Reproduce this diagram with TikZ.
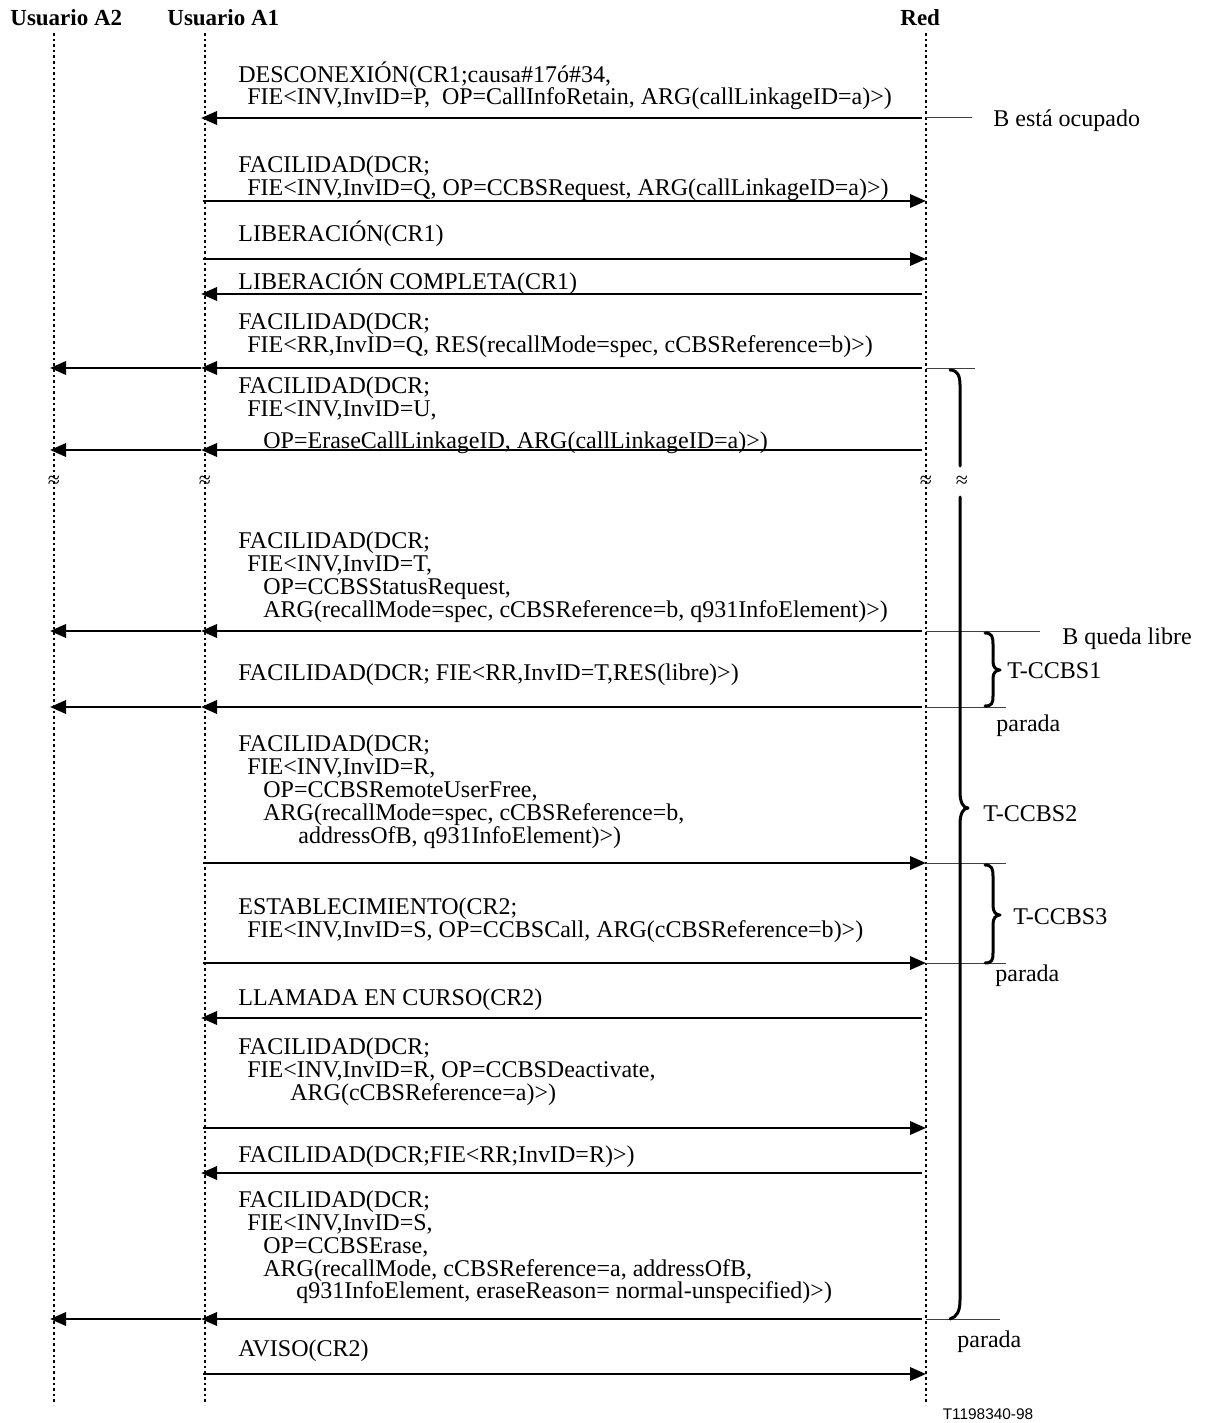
\documentclass[tikz,border=0pt]{standalone}
\usepackage{fontspec}
\setmainfont{Liberation Serif}
\newfontfamily\sansf{Liberation Sans}
\usetikzlibrary{arrows.meta}
\newcommand\msgL[1]{\draw[msg, shorten <=2pt, shorten >=-2pt] (R |- 0,#1) -- (A1 |- 0,#1);}
\newcommand\msgLL[1]{\draw[msg, shorten <=2pt, shorten >=-2pt] (R |- 0,#1) -- (A1 |- 0,#1);
  \draw[msg, shorten <=2pt, shorten >=-2pt] (A1 |- 0,#1) -- (A2 |- 0,#1);}
\newcommand\msgR[1]{\draw[msg, shorten <=-1pt] (A1 |- 0,#1) -- (R |- 0,#1);}
\newcommand\txtl[4]{\node[lbl] (#1) at (#2,#3) {#4};}
\begin{document}
\begin{tikzpicture}[x=0.5pt,y=-0.5pt,
  lifeline/.style={line width=1.1pt, dash pattern=on 1.3pt off 1.5pt},
  msg/.style={line width=1.4pt, -{Triangle[length=8pt,width=6.6pt]}},
  thinline/.style={line width=0.5pt, black!75},
  lbl/.style={anchor=base west, inner sep=0pt, font=\fontsize{12}{14}\selectfont},
  hdr/.style={anchor=base west, inner sep=0pt, font=\fontsize{11.5}{14}\selectfont\bfseries},
  brk/.style={inner sep=0pt, font=\fontsize{11}{12}\selectfont},
  bracestroke/.style={line width=1.5pt, line join=round, line cap=round}]
\useasboundingbox (0,0) rectangle (1204,1423);

% lifelines
\coordinate (A2) at (54,0);
\coordinate (A1) at (205,0);
\coordinate (R) at (926,0);
\coordinate (A2t) at (54,33);  \coordinate (A2b) at (54,1405);
\coordinate (A1t) at (205,33); \coordinate (A1b) at (205,1405);
\coordinate (Rt) at (926,33);  \coordinate (Rb) at (926,1405);
\draw[lifeline] (A2t) -- (A2b);
\draw[lifeline] (A1t) -- (A1b);
\draw[lifeline] (Rt) -- (Rb);

% headers
\node[hdr] (hA2) at (10,26) {Usuario A2};
\node[hdr] (hA1) at (167,26) {Usuario A1};
\node[hdr] (hR) at (900,26) {Red};

% message 1
\txtl{m1a}{238}{83}{DESCONEXIÓN(CR1;causa\#17ó\#34,}
\txtl{m1b}{247}{105}{FIE<INV,InvID=P,\ \ OP=CallInfoRetain, ARG(callLinkageID=a)>)}
\msgL{118}
\coordinate (o1) at (972,118);
\draw[thinline] (R |- 0,118) -- (o1);
\node[lbl] (bocc) at (993,127) {B está ocupado};

% message 2
\txtl{m2a}{238}{173}{FACILIDAD(DCR;}
\txtl{m2b}{247}{196}{FIE<INV,InvID=Q, OP=CCBSRequest, ARG(callLinkageID=a)>)}
\msgR{201}

% message 3
\txtl{m3a}{238}{242}{LIBERACIÓN(CR1)}
\msgR{259}

% message 4
\txtl{m4a}{238}{289}{LIBERACIÓN COMPLETA(CR1)}
\msgL{294}

% message 5
\txtl{m5a}{238}{329}{FACILIDAD(DCR;}
\txtl{m5b}{247}{352}{FIE<RR,InvID=Q, RES(recallMode=spec, cCBSReference=b)>)}
\msgLL{368}
\coordinate (o5) at (975,368);
\draw[thinline] (R |- 0,368) -- (o5);

% message 6
\txtl{m6a}{238}{393}{FACILIDAD(DCR;}
\txtl{m6b}{247}{416}{FIE<INV,InvID=U,}
\txtl{m6c}{263}{448}{OP=EraseCallLinkageID, ARG(callLinkageID=a)>)}
\msgLL{450}

% breaks
\node[brk] (b1) at (54,482) {≈};
\node[brk] (b2) at (205,482) {≈};
\node[brk] (b3) at (926,482) {≈};
\node[brk] (b4) at (962,482) {≈};

% message 7
\txtl{m7a}{238}{548}{FACILIDAD(DCR;}
\txtl{m7b}{247}{571}{FIE<INV,InvID=T,}
\txtl{m7c}{263}{594}{OP=CCBSStatusRequest,}
\txtl{m7d}{263}{617}{ARG(recallMode=spec, cCBSReference=b, q931InfoElement)>)}
\msgLL{631}
\coordinate (o7) at (1040,631);
\draw[thinline] (R |- 0,631) -- (o7);
\node[lbl] (blib) at (1062,644) {B queda libre};

% message 8
\txtl{m8a}{238}{680}{FACILIDAD(DCR; FIE<RR,InvID=T,RES(libre)>)}
\msgLL{707}
\coordinate (o8) at (1006,707);
\draw[thinline] (R |- 0,707) -- (o8);
\node[lbl] (par1) at (996,731) {parada};
% brace T-CCBS1
\draw[bracestroke] (985,633) .. controls (992,633) and (993,637) .. (993,644) -- (993,662)
  .. controls (993,667) and (996,670) .. (1000,670)
  .. controls (996,670) and (993,673) .. (993,678) -- (993,696)
  .. controls (993,703) and (992,706) .. (985,706);
\node[lbl] (t1) at (1007,678) {T-CCBS1};

% message 9
\txtl{m9a}{238}{751}{FACILIDAD(DCR;}
\txtl{m9b}{247}{774}{FIE<INV,InvID=R,}
\txtl{m9c}{263}{797}{OP=CCBSRemoteUserFree,}
\txtl{m9d}{263}{820}{ARG(recallMode=spec, cCBSReference=b,}
\txtl{m9e}{298}{843}{addressOfB, q931InfoElement)>)}
\msgR{863}
\coordinate (o9) at (1006,863);
\draw[thinline] (R |- 0,863) -- (o9);

% message 10
\txtl{m10a}{238}{914}{ESTABLECIMIENTO(CR2;}
\txtl{m10b}{247}{937}{FIE<INV,InvID=S, OP=CCBSCall, ARG(cCBSReference=b)>)}
\msgR{963}
\coordinate (o10) at (1006,963);
\draw[thinline] (R |- 0,963) -- (o10);
\node[lbl] (par2) at (995,981) {parada};
% brace T-CCBS3
\draw[bracestroke] (985,865) .. controls (992,865) and (993,869) .. (993,876) -- (993,906)
  .. controls (993,912) and (996,915) .. (1000,915)
  .. controls (996,915) and (993,918) .. (993,924) -- (993,953)
  .. controls (993,960) and (992,963) .. (985,963);
\node[lbl] (t3) at (1013,924) {T-CCBS3};

% message 11
\txtl{m11a}{238}{1005}{LLAMADA EN CURSO(CR2)}
\msgL{1018}

% message 12
\txtl{m12a}{238}{1054}{FACILIDAD(DCR;}
\txtl{m12b}{247}{1077}{FIE<INV,InvID=R, OP=CCBSDeactivate,}
\txtl{m12c}{290}{1100}{ARG(cCBSReference=a)>)}
\msgR{1128}

% message 13
\txtl{m13a}{238}{1162}{FACILIDAD(DCR;FIE<RR;InvID=R)>)}
\msgL{1173}

% message 14
\txtl{m14a}{238}{1207}{FACILIDAD(DCR;}
\txtl{m14b}{247}{1230}{FIE<INV,InvID=S,}
\txtl{m14c}{263}{1253}{OP=CCBSErase,}
\txtl{m14d}{263}{1276}{ARG(recallMode, cCBSReference=a, addressOfB,}
\txtl{m14e}{296}{1298}{q931InfoElement, eraseReason= normal-unspecified)>)}
\msgLL{1319}
\coordinate (o14) at (1000,1319);
\draw[thinline] (R |- 0,1319) -- (o14);
\node[lbl] (par3) at (957,1347) {parada};

% message 15
\txtl{m15a}{238}{1356}{AVISO(CR2)}
\msgR{1374}

% big brace T-CCBS2
\draw[bracestroke] (950,370) .. controls (957,370) and (960,375) .. (960,385) -- (960,466);
\draw[bracestroke] (960,497) -- (960,792)
  .. controls (960,802) and (963,808) .. (968,808)
  .. controls (963,808) and (960,814) .. (960,824) -- (960,1300)
  .. controls (960,1311) and (957,1317) .. (950,1319);
\node[lbl] (t2) at (983,821) {T-CCBS2};

% figure id
\node[anchor=base, inner sep=0pt, font=\sansf\fontsize{7.7}{9}\selectfont] (fid) at (988,1419) {T1198340-98};
\end{tikzpicture}
\end{document}
